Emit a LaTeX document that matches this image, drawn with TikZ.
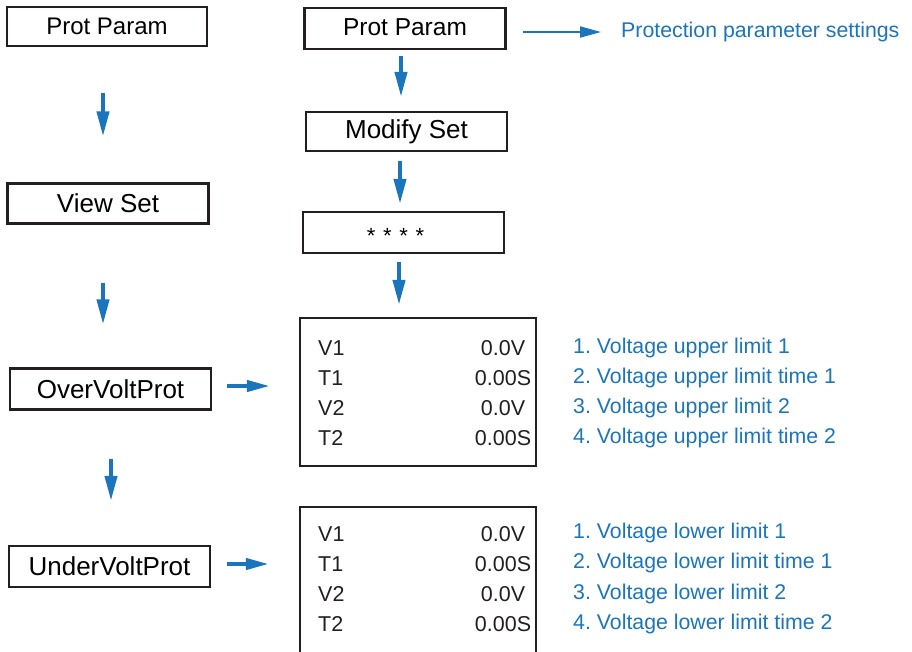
\documentclass[tikz,border=0pt]{standalone}
\usepackage{fontspec}
\setmainfont{Liberation Sans}
\frenchspacing
\usetikzlibrary{arrows.meta}
\definecolor{menublue}{HTML}{1B75BC}
\definecolor{boxline}{HTML}{231F20}
\tikzset{
  menubox/.style={draw=boxline, line width=2.2pt, minimum width=201pt, minimum height=40pt, inner sep=0pt, font=\fontsize{26}{30}\selectfont},
  tabtext/.style={inner sep=0pt, font=\fontsize{21.5}{26}\selectfont, text=boxline},
  bluetext/.style={inner sep=0pt, anchor=west, font=\fontsize{21.3}{25}\selectfont, text=menublue},
  downarrow/.style={draw=menublue, line width=4pt, -{Triangle[length=25pt, width=12pt]}},
  sidearrow/.style={draw=menublue, line width=4pt, -{Triangle[length=23pt, width=11pt]}},
  notearrow/.style={draw=menublue, line width=2pt, -{Triangle[length=21pt, width=11pt]}}
}
\begin{document}
\begin{tikzpicture}[x=1pt, y=-1pt]
  \useasboundingbox (0,0) rectangle (912,651);
  % left column
  \node[menubox, minimum width=200pt, minimum height=39pt, font=\fontsize{24}{28}\selectfont] (lprot) at (107,26.5) {Prot Param};
  \node[menubox] (lview) at (108,203.5) {View Set};
  \node[menubox, minimum height=41pt] (lover) at (110.5,389) {OverVoltProt};
  \node[menubox, minimum height=41pt] (lunder) at (109.5,566.5) {UnderVoltProt};
  \draw[downarrow, shorten <=46pt, shorten >=46pt] ([xshift=-4pt]lprot.south) -- ([xshift=-4pt]lprot.south |- lview.north);
  \draw[downarrow, shorten <=58pt, shorten >=43pt] ([xshift=-5pt]lview.south) -- ([xshift=-5pt]lview.south |- lover.north);
  \draw[downarrow, shorten <=48pt, shorten >=44pt] ([xshift=0.5pt]lover.south) -- ([xshift=0.5pt]lover.south |- lunder.north);
  % right column
  \node[menubox, minimum height=41pt, font=\fontsize{24.5}{28}\selectfont, text depth=2pt] (rprot) at (405,28.5) {Prot Param};
  \node[menubox, minimum height=39pt] (rmod) at (406.5,131.5) {Modify Set};
  \node[menubox, minimum height=41pt, font=\fontsize{22}{24}\selectfont, text height=21pt, text depth=0pt] (rpass) at (403.5,232.5) {*\kern7.7pt*\kern7.7pt*\kern7.7pt*\kern16pt};
  \node[menubox, minimum width=236pt, minimum height=148pt] (upbox) at (418,392) {};
  \begin{scope}
    \clip (0,0) rectangle (912,651);
    \node[menubox, minimum width=236pt, minimum height=170pt] (lowbox) at (418,592) {};
  \end{scope}
  \draw[downarrow, shorten <=6pt, shorten >=14pt] ([xshift=-4pt]rprot.south) -- ([xshift=-4pt]rprot.south |- rmod.north);
  \draw[downarrow, shorten <=9pt, shorten >=7pt] ([xshift=-6.5pt]rmod.south) -- ([xshift=-6.5pt]rmod.south |- rpass.north);
  \draw[downarrow, shorten <=8pt, shorten >=12pt] ([xshift=-4.5pt]rpass.south) -- ([xshift=-4.5pt]rpass.south |- upbox.north);
  \node[bluetext] (note) at (621,32) {Protection parameter settings};
  \draw[notearrow, shorten <=16.5pt, shorten >=20pt] (rprot.east |- note.west) -- (note.west);
  \draw[sidearrow, shorten <=15pt, shorten >=29pt] ([yshift=3pt]lover.east) -- ([yshift=3pt]lover.east -| upbox.west);
  \draw[sidearrow, shorten <=16pt, shorten >=30pt] ([yshift=2.5pt]lunder.east) -- ([yshift=2.5pt]lunder.east -| lowbox.west);
  % upper limits
  \node[tabtext, anchor=west] (uv1) at (318,348) {V1};
  \node[tabtext, anchor=west] (ut1) at (318,378) {T1};
  \node[tabtext, anchor=west] (uv2) at (318,408) {V2};
  \node[tabtext, anchor=west] (ut2) at (318,438) {T2};
  \node[tabtext] (uv1val) at (503,348) {0.0V};
  \node[tabtext] (ut1val) at (503,378) {0.00S};
  \node[tabtext] (uv2val) at (503,408) {0.0V};
  \node[tabtext] (ut2val) at (503,438) {0.00S};
  \node[bluetext] (unote1) at (573,348) {1. Voltage upper limit 1};
  \node[bluetext] (unote2) at (573,378) {2. Voltage upper limit time 1};
  \node[bluetext] (unote3) at (573,408) {3. Voltage upper limit 2};
  \node[bluetext] (unote4) at (573,438) {4. Voltage upper limit time 2};
  % lower limits
  \node[tabtext, anchor=west] (lv1) at (318,534) {V1};
  \node[tabtext, anchor=west] (lt1) at (318,564) {T1};
  \node[tabtext, anchor=west] (lv2) at (318,594) {V2};
  \node[tabtext, anchor=west] (lt2) at (318,624) {T2};
  \node[tabtext] (lv1val) at (503,534) {0.0V};
  \node[tabtext] (lt1val) at (503,564) {0.00S};
  \node[tabtext] (lv2val) at (503,594) {0.0V};
  \node[tabtext] (lt2val) at (503,624) {0.00S};
  \node[bluetext] (lnote1) at (573,533) {1. Voltage lower limit 1};
  \node[bluetext] (lnote2) at (573,563) {2. Voltage lower limit time 1};
  \node[bluetext] (lnote3) at (573,594) {3. Voltage lower limit 2};
  \node[bluetext] (lnote4) at (573,624) {4. Voltage lower limit time 2};
\end{tikzpicture}
\end{document}
